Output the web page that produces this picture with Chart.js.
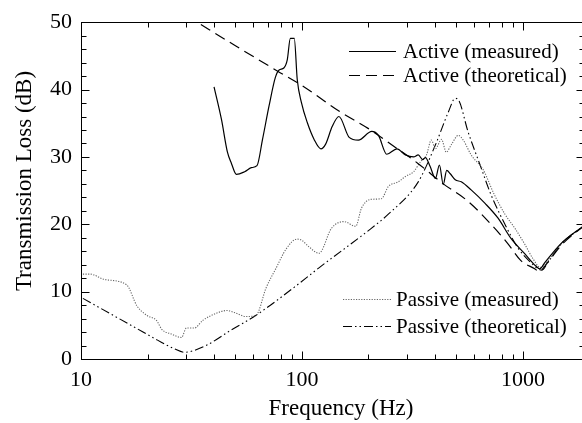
<!DOCTYPE html>
<html>
<head>
<meta charset="utf-8">
<script src="https://cdn.jsdelivr.net/npm/chart.js@4.4.1/dist/chart.umd.min.js"></script>
<style>
  html, body { margin: 0; padding: 0; background: #fff; overflow: hidden; }
  #wrap { width: 592px; height: 423px; }
</style>
</head>
<body>
<div id="wrap"><canvas id="tlChart" width="592" height="423"></canvas></div>
<script>
// Transmission loss readings (frequency in Hz, TL in dB)
const activeMeasFreq = [40, 43.2, 46, 48, 50.5, 55, 59, 62.6, 66.3, 71, 75.8, 78.8, 82.8, 85.8, 88.6, 92.3, 95.2, 99.4, 105.7, 113.5, 121.8, 128, 137, 147, 163.6, 180, 207, 222, 242, 269, 294, 320, 336, 352, 362, 380, 402, 419, 436, 452, 469, 494, 526, 583, 674, 772, 883, 1021, 1145, 1193, 1256, 1483, 1890];
const activeMeasTL = [40.4, 35.6, 30.7, 29.0, 27.4, 27.8, 28.4, 28.7, 32.6, 37.6, 41.8, 42.9, 43.2, 44.4, 47.6, 47.6, 41.5, 38.1, 35.1, 32.6, 31.2, 31.9, 34.5, 36.0, 32.9, 32.5, 33.8, 33.2, 30.4, 31.2, 30.3, 30.0, 30.3, 29.6, 29.9, 28.6, 26.8, 28.8, 25.9, 28.0, 27.5, 26.6, 26.3, 25.1, 23.1, 20.9, 17.9, 15.6, 13.8, 13.4, 14.3, 17.1, 19.8];

const activeTheoFreq = [30, 33.6, 50, 77, 100, 147, 200, 265, 336, 436, 565, 717, 856, 979, 1131, 1180, 1300, 1483, 1890];
const activeTheoTL = [51, 50, 46.5, 42.8, 40.6, 36.8, 34.2, 31.4, 29.0, 26.0, 23.4, 20.0, 17.1, 14.6, 13.4, 13.0, 14.4, 16.8, 19.8];

const passiveMeasFreq = [10.2, 11, 12.8, 16.1, 17.9, 19.8, 22, 23.2, 25.7, 28.5, 30, 32.6, 35.5, 41, 45.9, 49.4, 56, 62, 68.9, 76.4, 84.7, 94.9, 100, 108, 119.4, 136, 155, 175, 186, 205, 229, 246, 273, 294, 320, 344, 366, 385, 402, 428, 450, 474, 510, 537, 583, 661, 740, 829, 920, 1021, 1110, 1200, 1300, 1483, 1890];
const passiveMeasTL = [12.6, 12.6, 11.8, 11.0, 7.9, 6.5, 5.7, 4.4, 3.7, 3.2, 4.6, 4.6, 5.7, 6.8, 7.2, 6.9, 6.3, 6.5, 10.6, 13.5, 16.3, 17.8, 17.6, 16.6, 15.7, 19.4, 20.4, 19.7, 22.4, 23.7, 23.8, 25.6, 26.3, 27.1, 27.8, 29.3, 30.3, 32.5, 31.2, 32.6, 30.7, 31.8, 33.2, 32.5, 30.3, 28.1, 24.5, 21.5, 19.4, 17.0, 14.9, 13.6, 14.6, 17.0, 19.8];

const passiveTheoFreq = [10.2, 17.5, 22.2, 26.5, 29.4, 32, 37.3, 47.8, 62, 97, 119, 206, 246, 336, 402, 459, 494, 510, 565, 640, 717, 829, 949, 1087, 1170, 1220, 1300, 1483, 1890];
const passiveTheoTL = [9.0, 4.7, 2.8, 1.5, 1.0, 1.2, 2.1, 4.3, 6.5, 11.2, 13.5, 19.4, 21.5, 26.3, 31.8, 36.6, 38.7, 38.5, 33.7, 28.8, 24.4, 20.0, 16.5, 14.3, 13.4, 13.2, 14.4, 17.0, 19.8];

const seriesNames = ['Active (measured)', 'Active (theoretical)', 'Passive (measured)', 'Passive (theoretical)'];
const xTitle = 'Frequency (Hz)';
const yTitle = 'Transmission Loss (dB)';
const xMin = 10, xMax = 1890;
const yMin = 0, yMax = 50;
const xLabelValues = [10, 100, 1000];

const FONT = "'Liberation Serif', 'Times New Roman', serif";

function toPoints(freqs, values) {
    return freqs.map((f, i) => ({ x: f, y: values[i] }));
}

// Inward ticks on all four sides plus the box frame
const frameTicks = {
    id: 'frameTicks',
    afterDatasetsDraw(chart) {
        const { ctx, chartArea: a, scales: { x, y } } = chart;
        const L = Math.round(a.left) + 0.5, R = Math.round(a.right) + 0.5;
        const T = Math.round(a.top) + 0.5, B = Math.round(a.bottom) + 0.5;
        ctx.save();
        ctx.strokeStyle = '#000';
        ctx.lineWidth = 1;
        ctx.setLineDash([]);
        ctx.strokeRect(L, T, R - L, B - T);
        ctx.beginPath();
        for (let d = 10; d <= xMax; d *= 10) {
            for (let k = 1; k <= 9; k++) {
                const v = k * d;
                if (v < xMin || v > xMax) continue;
                const px = Math.round(x.getPixelForValue(v)) + 0.5;
                const len = k === 1 ? 8 : 5;
                ctx.moveTo(px, B); ctx.lineTo(px, B - len);
                ctx.moveTo(px, T); ctx.lineTo(px, T + len);
            }
        }
        for (let v = yMin; v <= yMax; v += 2) {
            const py = Math.round(y.getPixelForValue(v)) + 0.5;
            const len = v % 10 === 0 ? 8 : 5;
            ctx.moveTo(L, py); ctx.lineTo(L + len, py);
            ctx.moveTo(R, py); ctx.lineTo(R - len, py);
        }
        ctx.stroke();
        ctx.restore();
    }
};

// Axis titles (slightly off the plot centre in the original figure)
const axisTitles = {
    id: 'axisTitles',
    afterDraw(chart) {
        const ctx = chart.ctx;
        ctx.save();
        ctx.fillStyle = '#000';
        ctx.font = '23px ' + FONT;
        ctx.textAlign = 'center';
        ctx.textBaseline = 'middle';
        ctx.fillText(xTitle, 341, 409);
        ctx.translate(25, 181);
        ctx.rotate(-Math.PI / 2);
        ctx.fillText(yTitle, 0, 0);
        ctx.restore();
    }
};

// Two legend blocks drawn inside the plot
const legendSpots = [
    { x1: 349, x2: 396, y: 51, tx: 403 },
    { x1: 349, x2: 396, y: 75, tx: 403 },
    { x1: 343, x2: 391, y: 299, tx: 396 },
    { x1: 343, x2: 391, y: 326, tx: 396 }
];
const splitLegend = {
    id: 'splitLegend',
    afterDraw(chart) {
        const ctx = chart.ctx;
        ctx.save();
        chart.data.datasets.forEach((ds, i) => {
            const s = legendSpots[i];
            ctx.strokeStyle = ds.borderColor;
            ctx.lineWidth = ds.borderWidth;
            ctx.setLineDash(ds.borderDash || []);
            ctx.beginPath();
            ctx.moveTo(s.x1, s.y + 0.5);
            ctx.lineTo(s.x2, s.y + 0.5);
            ctx.stroke();
            ctx.setLineDash([]);
            ctx.fillStyle = '#000';
            ctx.font = '21px ' + FONT;
            ctx.textBaseline = 'middle';
            ctx.textAlign = 'left';
            ctx.fillText(ds.label, s.tx, s.y + 1);
        });
        ctx.restore();
    }
};

const ctx = document.getElementById('tlChart').getContext('2d');

new Chart(ctx, {
    type: 'line',
    data: {
        datasets: [{
            label: seriesNames[0],
            data: toPoints(activeMeasFreq, activeMeasTL),
            borderColor: '#000',
            borderWidth: 1.2,
        }, {
            label: seriesNames[1],
            data: toPoints(activeTheoFreq, activeTheoTL),
            borderColor: '#000',
            borderWidth: 1.2,
            borderDash: [11, 6],
        }, {
            label: seriesNames[2],
            data: toPoints(passiveMeasFreq, passiveMeasTL),
            borderColor: '#666',
            borderWidth: 1.1,
            borderDash: [1.2, 1.4],
        }, {
            label: seriesNames[3],
            data: toPoints(passiveTheoFreq, passiveTheoTL),
            borderColor: '#000',
            borderWidth: 1.1,
            borderDash: [9, 3, 1.5, 3, 1.5, 3],
        }],
    },
    options: {
        responsive: false,
        animation: false,
        devicePixelRatio: 1,
        layout: { padding: { top: 19, right: 6, left: 0, bottom: 0 } },
        elements: {
            point: { radius: 0 },
            line: { cubicInterpolationMode: 'monotone', fill: false },
        },
        plugins: {
            legend: { display: false },
            tooltip: { enabled: false },
        },
        scales: {
            x: {
                type: 'logarithmic',
                min: xMin,
                max: xMax,
                grid: { display: false, drawTicks: false },
                border: { display: false },
                afterFit: s => { s.height = 64; },
                ticks: {
                    autoSkip: false,
                    maxRotation: 0,
                    padding: 8,
                    color: '#000',
                    font: { family: FONT, size: 22 },
                    callback: v => xLabelValues.includes(v) ? String(v) : '',
                },
            },
            y: {
                min: yMin,
                max: yMax,
                grid: { display: false, drawTicks: false },
                border: { display: false },
                afterFit: s => { s.width = 81; },
                ticks: {
                    stepSize: 10,
                    padding: 9,
                    color: '#000',
                    font: { family: FONT, size: 22 },
                },
            },
        },
    },
    plugins: [frameTicks, axisTitles, splitLegend],
});
</script>
</body>
</html>
